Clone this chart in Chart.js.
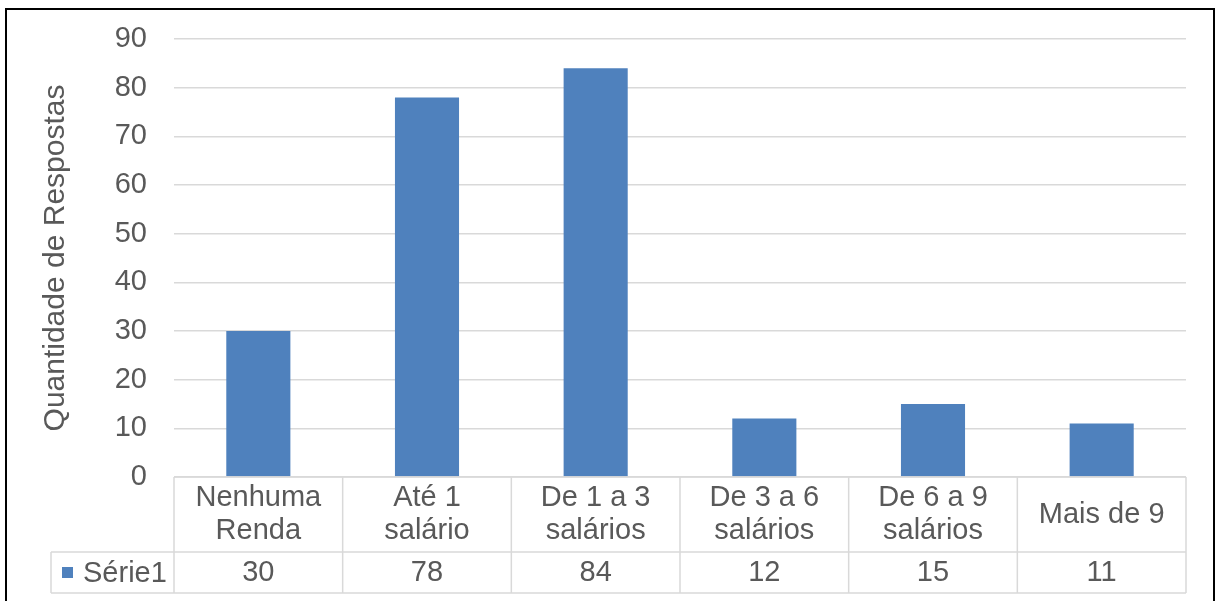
<!DOCTYPE html>
<html lang="pt">
<head>
<meta charset="utf-8">
<title>Quantidade de Respostas por renda</title>
<script src="https://cdn.jsdelivr.net/npm/chart.js@4/dist/chart.umd.min.js"></script>
<style>
  html, body { margin: 0; padding: 0; background: #fff; }
  canvas { display: block; }
</style>
</head>
<body>
<canvas id="chartRenda" width="1216" height="601"></canvas>
<script>
// dados do gráfico
const categorias = [
  ['Nenhuma', 'Renda'],
  ['Até 1', 'salário'],
  ['De 1 a 3', 'salários'],
  ['De 3 a 6', 'salários'],
  ['De 6 a 9', 'salários'],
  ['Mais de 9']
];
const serieNome = 'Série1';
const serieValores = [30, 78, 84, 12, 15, 11];
const yTicks = [0, 10, 20, 30, 40, 50, 60, 70, 80, 90];

const corBarra = '#4f81bd';
const corTexto = '#595959';
const corGrade = '#d9d9d9';
const fonte = '"Liberation Sans", Arial, sans-serif';

// tabela de dados embaixo do gráfico (estilo Excel)
const tabelaPlugin = {
  id: 'tabelaDados',
  afterDraw(chart) {
    const ctx = chart.ctx;
    const x = chart.scales.x;
    const area = chart.chartArea;
    const n = categorias.length;
    const w = x.width / n;
    const top = area.bottom;
    const mid = top + 75;
    const bot = top + 116;
    const legLeft = 51;

    ctx.save();
    ctx.strokeStyle = corGrade;
    ctx.lineWidth = 1.5;
    ctx.beginPath();
    // linhas horizontais
    ctx.moveTo(area.left, top); ctx.lineTo(area.right, top);
    ctx.moveTo(legLeft, mid); ctx.lineTo(area.right, mid);
    ctx.moveTo(legLeft, bot); ctx.lineTo(area.right, bot);
    // verticais
    ctx.moveTo(legLeft, mid); ctx.lineTo(legLeft, bot);
    for (let i = 0; i <= n; i++) {
      const px = area.left + i * w;
      ctx.moveTo(px, top); ctx.lineTo(px, bot);
    }
    ctx.stroke();

    ctx.fillStyle = corTexto;
    ctx.font = '29px ' + fonte;
    ctx.textAlign = 'center';
    ctx.textBaseline = 'middle';
    const lh = 33;
    categorias.forEach((linhas, i) => {
      const cx = x.getPixelForValue(i);
      const cy = (top + mid) / 2;
      const y0 = cy - (linhas.length - 1) * lh / 2;
      linhas.forEach((t, j) => ctx.fillText(t, cx, y0 + j * lh));
      ctx.fillText(String(serieValores[i]), cx, (mid + bot) / 2);
    });

    // legenda da série
    const ly = (mid + bot) / 2;
    ctx.fillStyle = corBarra;
    ctx.fillRect(62, ly - 5.5, 11, 11);
    ctx.fillStyle = corTexto;
    ctx.textAlign = 'left';
    ctx.fillText(serieNome, 83, ly + 1);

    // moldura externa
    ctx.strokeStyle = '#000';
    ctx.lineWidth = 2;
    ctx.beginPath();
    ctx.moveTo(6, 610); ctx.lineTo(6, 9); ctx.lineTo(1214, 9); ctx.lineTo(1214, 610);
    ctx.stroke();
    ctx.restore();
  }
};

new Chart(document.getElementById('chartRenda').getContext('2d'), {
  type: 'bar',
  data: {
    labels: categorias.map(c => c.join(' ')),
    datasets: [{
      label: serieNome,
      data: serieValores,
      backgroundColor: corBarra,
      categoryPercentage: 1,
      barPercentage: 0.38
    }]
  },
  options: {
    responsive: false,
    animation: false,
    devicePixelRatio: 1,
    layout: {
      padding: { left: 34, top: 39, right: 30, bottom: 124 }
    },
    plugins: {
      legend: { display: false },
      tooltip: { enabled: false }
    },
    scales: {
      x: { display: false },
      y: {
        min: 0,
        max: 90,
        afterBuildTicks: scale => {
          scale.ticks = yTicks.map(v => ({ value: v }));
        },
        afterFit: scale => {
          scale.width = 140;
          scale.paddingTop = 0;
          scale.paddingBottom = 0;
        },
        grid: { color: corGrade, lineWidth: 1.5, drawTicks: false },
        border: { display: false },
        ticks: {
          padding: 27,
          color: corTexto,
          font: { family: fonte, size: 29 }
        },
        title: {
          display: true,
          text: 'Quantidade de Respostas',
          color: corTexto,
          font: { family: fonte, size: 30 },
          padding: { top: 4, bottom: 0 }
        }
      }
    }
  },
  plugins: [tabelaPlugin]
});
</script>
</body>
</html>
